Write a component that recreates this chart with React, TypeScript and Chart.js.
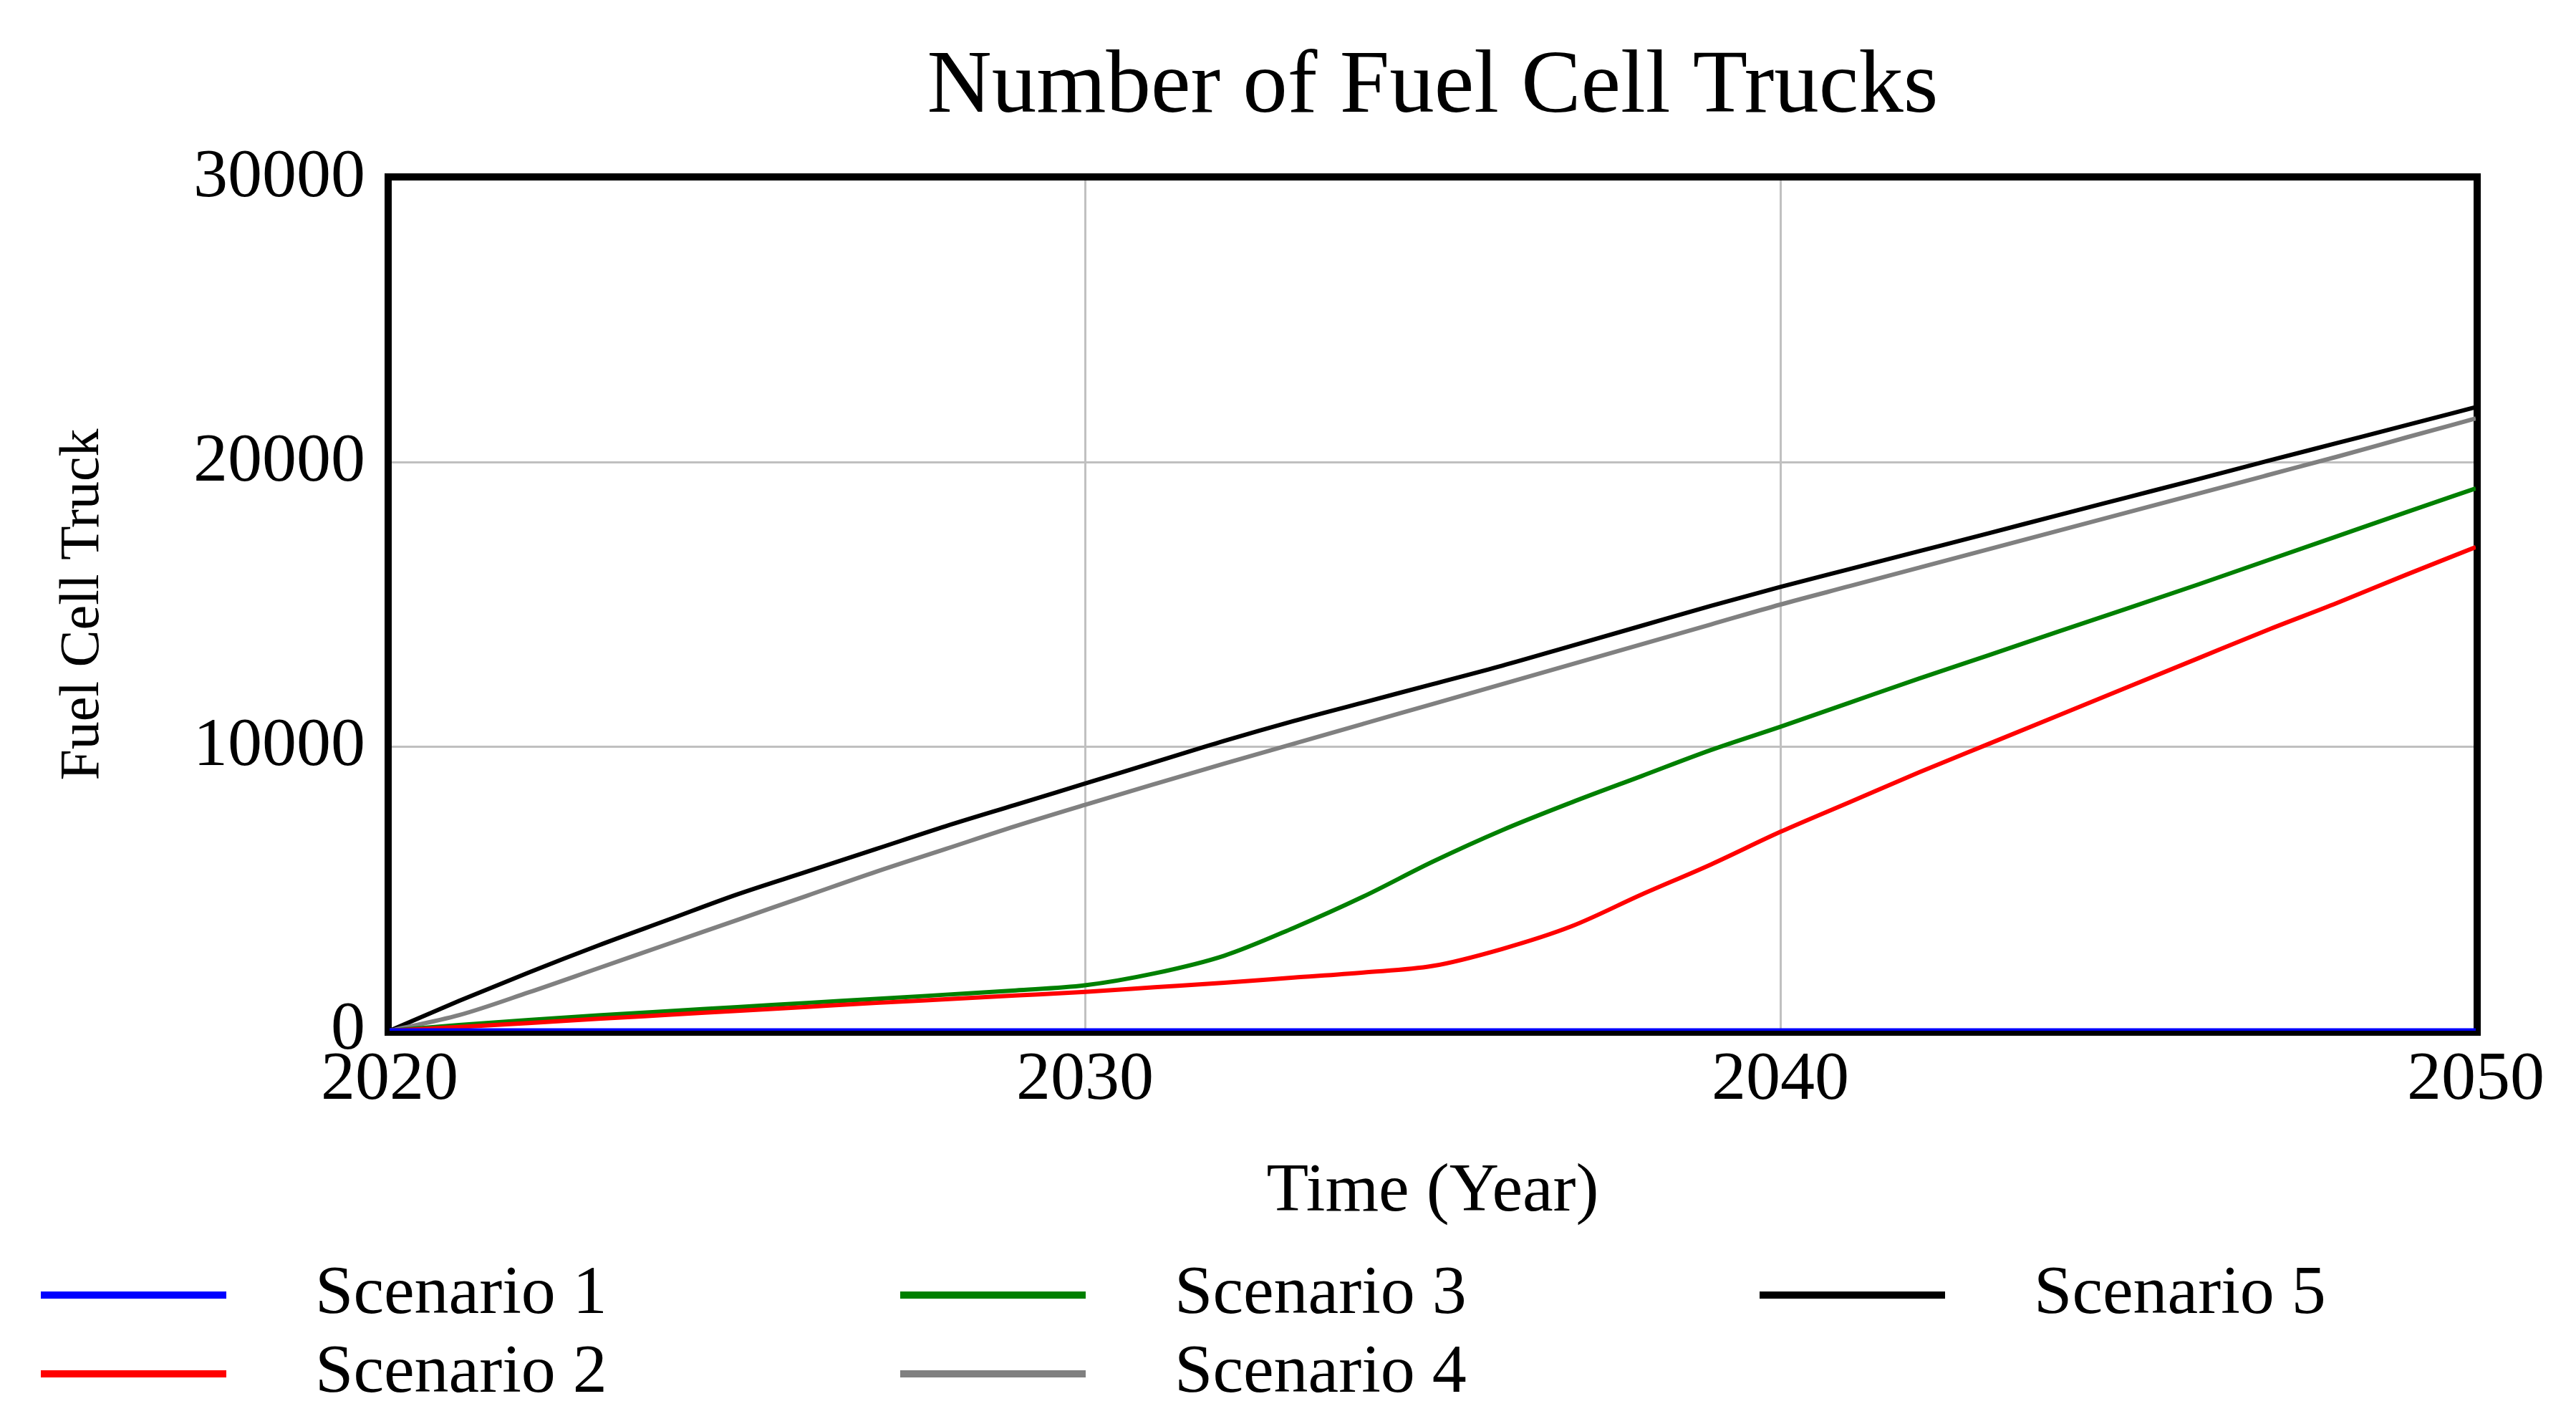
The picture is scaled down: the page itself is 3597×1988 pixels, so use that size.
import React, { useEffect, useRef } from 'react';
import { Chart, registerables } from 'chart.js';

Chart.register(...registerables);

const years = [2020, 2021, 2022, 2023, 2024, 2025, 2026, 2027, 2028, 2029, 2030, 2031, 2032, 2033, 2034, 2035, 2036, 2037, 2038, 2039, 2040, 2041, 2042, 2043, 2044, 2045, 2046, 2047, 2048, 2049, 2050];

const scenario1 = [0, 0, 0, 0, 0, 0, 0, 0, 0, 0, 0, 0, 0, 0, 0, 0, 0, 0, 0, 0, 0, 0, 0, 0, 0, 0, 0, 0, 0, 0, 0];
const scenario2 = [0, 130, 270, 420, 560, 700, 840, 980, 1110, 1240, 1370, 1530, 1690, 1870, 2050, 2280, 2880, 3680, 4790, 5850, 7000, 8050, 9100, 10100, 11100, 12100, 13100, 14100, 15050, 16050, 17020];
const scenario3 = [0, 200, 380, 540, 690, 830, 980, 1120, 1270, 1420, 1600, 2020, 2640, 3620, 4720, 5950, 7060, 8040, 8960, 9880, 10700, 11550, 12400, 13220, 14050, 14870, 15700, 16550, 17400, 18250, 19090];
const scenario4 = [0, 550, 1350, 2200, 3050, 3900, 4750, 5600, 6400, 7200, 7950, 8680, 9400, 10100, 10800, 11500, 12200, 12900, 13600, 14300, 15000, 15650, 16300, 16950, 17600, 18250, 18900, 19550, 20200, 20880, 21550];
const scenario5 = [0, 1050, 2050, 3000, 3900, 4800, 5600, 6400, 7200, 7950, 8700, 9450, 10200, 10900, 11550, 12200, 12850, 13550, 14250, 14950, 15620, 16250, 16880, 17510, 18150, 18780, 19410, 20050, 20680, 21310, 21950];

const seriesNames = ['Scenario 1', 'Scenario 2', 'Scenario 3', 'Scenario 4', 'Scenario 5'];
const seriesColors = ['#0000ff', '#ff0000', '#008000', '#808080', '#000000'];
const seriesValues = [scenario1, scenario2, scenario3, scenario4, scenario5];

const chartTitle = 'Number of Fuel Cell Trucks';
const xTitle = 'Time (Year)';
const yTitle = 'Fuel Cell Truck';

const FONT = '"Liberation Serif", "Times New Roman", serif';

const borderPlugin = {
  id: 'plotBorder',
  beforeDatasetsDraw(chart: any) {
    const { ctx, chartArea } = chart;
    ctx.save();
    ctx.strokeStyle = '#000';
    ctx.lineWidth = 10;
    ctx.strokeRect(chartArea.left - 2, chartArea.top - 2, chartArea.right - chartArea.left + 4, chartArea.bottom - chartArea.top + 4);
    ctx.restore();
  },
};

const legendPlugin = {
  id: 'gridLegend',
  afterDraw(chart: any) {
    const { ctx } = chart;
    const ds = chart.data.datasets;
    ctx.save();
    ctx.font = `96px ${FONT}`;
    ctx.textBaseline = 'middle';
    ctx.textAlign = 'left';
    ds.forEach((d: any, i: number) => {
      const col = Math.floor(i / 2);
      const row = i % 2;
      const x0 = 57 + col * 1200;
      const y = 1808 + row * 110;
      ctx.strokeStyle = d.borderColor;
      ctx.lineWidth = 10;
      ctx.beginPath();
      ctx.moveTo(x0, y);
      ctx.lineTo(x0 + 259, y);
      ctx.stroke();
      ctx.fillStyle = '#000';
      ctx.fillText(d.label, x0 + 383, y);
    });
    ctx.restore();
  },
};

export default function App() {
  const ref = useRef<HTMLCanvasElement | null>(null);

  useEffect(() => {
    if (!ref.current) return;
    const chart = new Chart(ref.current, {
      type: 'line',
      data: {
        datasets: seriesValues.map((vals, i) => ({
          label: seriesNames[i],
          data: years.map((yr, j) => ({ x: yr, y: vals[j] })),
          borderColor: seriesColors[i],
          backgroundColor: seriesColors[i],
          borderWidth: i === 0 ? 7 : 6,
          pointRadius: 0,
          cubicInterpolationMode: 'monotone' as const,
          fill: false,
        })),
      },
      plugins: [borderPlugin, legendPlugin],
      options: {
        animation: false,
        responsive: false,
        devicePixelRatio: 1,
        layout: { padding: { left: 0, right: 140, top: 0, bottom: 249 } },
        plugins: {
          legend: { display: false },
          tooltip: { enabled: false },
          title: {
            display: true,
            text: chartTitle,
            fullSize: false,
            color: '#000',
            font: { family: FONT, size: 125, weight: 'normal' },
            padding: { top: 48, bottom: 51 },
          },
        },
        scales: {
          x: {
            type: 'linear',
            min: 2020,
            max: 2050,
            afterFit: (s: any) => { s.height = 300; },
            ticks: {
              stepSize: 10,
              color: '#000',
              padding: 12,
              maxRotation: 0,
              font: { family: FONT, size: 96 },
              callback: (v: any) => String(v),
            },
            grid: { color: '#c0c0c0', lineWidth: 3, drawTicks: false },
            border: { display: false },
            title: {
              display: true,
              text: xTitle,
              color: '#000',
              font: { family: FONT, size: 96 },
              padding: { top: 0, bottom: 17 },
            },
          },
          y: {
            min: 0,
            max: 30000,
            afterFit: (s: any) => { s.width = 544; },
            ticks: {
              stepSize: 10000,
              color: '#000',
              padding: 34,
              font: { family: FONT, size: 96 },
              callback: (v: any) => String(v),
            },
            grid: { color: '#c0c0c0', lineWidth: 3, drawTicks: false },
            border: { display: false },
            title: {
              display: true,
              text: yTitle,
              color: '#000',
              font: { family: FONT, size: 78 },
              padding: { top: 70, bottom: 0 },
            },
          },
        },
      },
    });
    return () => chart.destroy();
  }, []);

  return (
    <div style={{ position: 'fixed', left: 0, top: 0, width: 3597, height: 1988, background: '#fff' }}>
      <canvas ref={ref} width={3597} height={1988} style={{ width: 3597, height: 1988, display: 'block' }} />
    </div>
  );
}
